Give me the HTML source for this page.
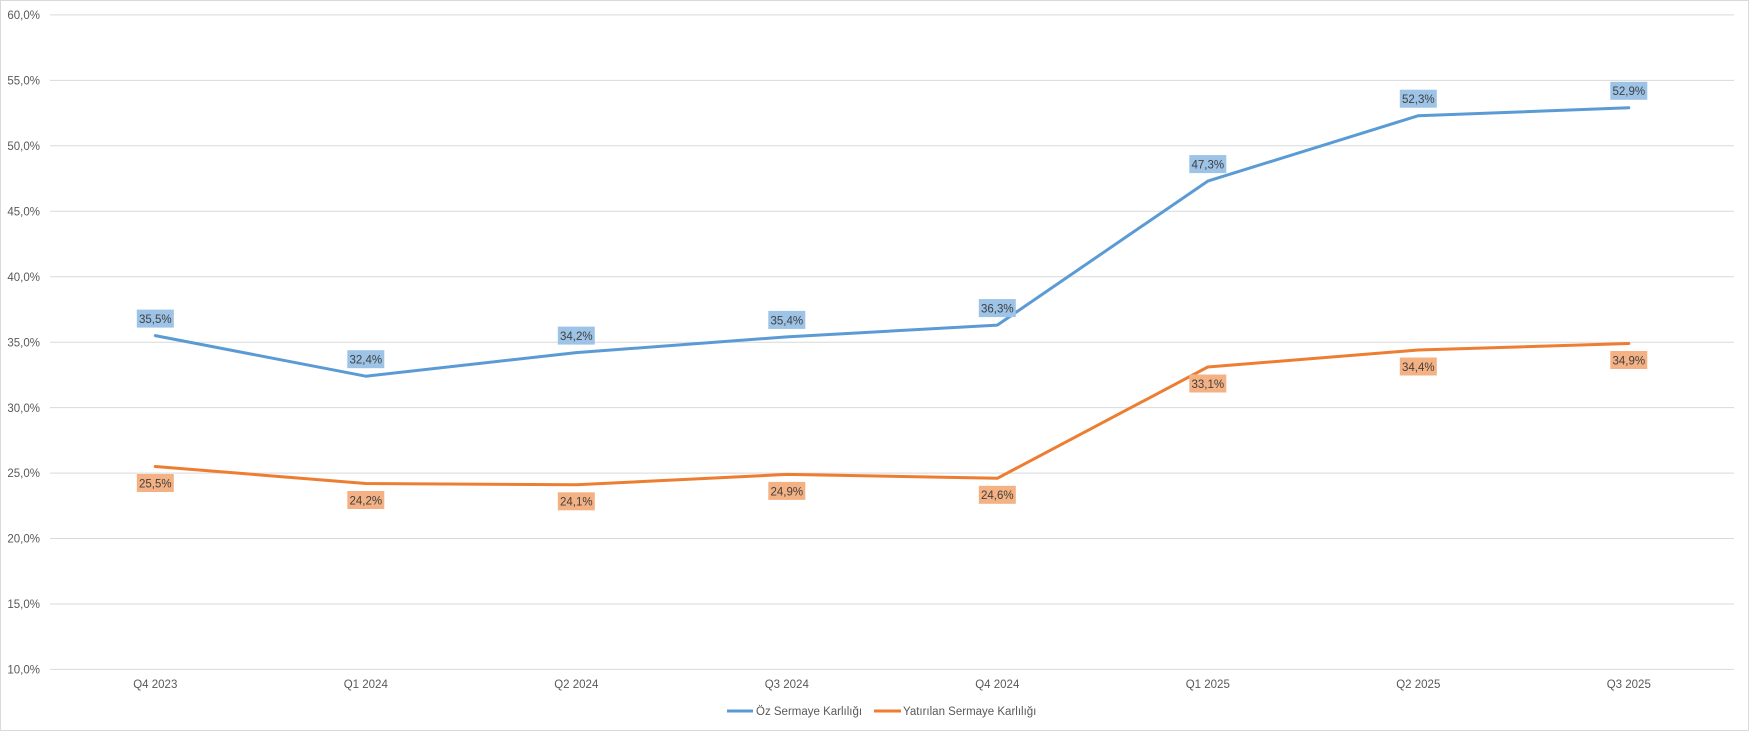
<!DOCTYPE html>
<html><head><meta charset="utf-8"><style>
html,body{margin:0;padding:0;background:#fff;}
svg{display:block;font-family:"Liberation Sans",sans-serif;}
</style></head><body>
<svg width="1749" height="731" viewBox="0 0 1749 731" xmlns="http://www.w3.org/2000/svg">
<rect x="0.5" y="0.5" width="1748" height="730" fill="#fff" stroke="#d9d9d9"/>
<g stroke="#d9d9d9" stroke-width="1">
<line x1="50" x2="1734" y1="14.9" y2="14.9"/>
<line x1="50" x2="1734" y1="80.4" y2="80.4"/>
<line x1="50" x2="1734" y1="145.8" y2="145.8"/>
<line x1="50" x2="1734" y1="211.3" y2="211.3"/>
<line x1="50" x2="1734" y1="276.7" y2="276.7"/>
<line x1="50" x2="1734" y1="342.2" y2="342.2"/>
<line x1="50" x2="1734" y1="407.6" y2="407.6"/>
<line x1="50" x2="1734" y1="473.1" y2="473.1"/>
<line x1="50" x2="1734" y1="538.5" y2="538.5"/>
<line x1="50" x2="1734" y1="604" y2="604"/>
<line x1="50" x2="1734" y1="669.4" y2="669.4"/>
</g>
<g fill="#595959" font-size="11.5" text-anchor="end">
<text x="40" y="19">60,0%</text><text x="40" y="84.5">55,0%</text><text x="40" y="150">50,0%</text>
<text x="40" y="215.4">45,0%</text><text x="40" y="280.9">40,0%</text><text x="40" y="346.3">35,0%</text>
<text x="40" y="411.8">30,0%</text><text x="40" y="477.2">25,0%</text><text x="40" y="542.7">20,0%</text>
<text x="40" y="608.1">15,0%</text><text x="40" y="673.6">10,0%</text>
</g>
<g fill="#595959" font-size="11.5" text-anchor="middle">
<text x="155.3" y="688">Q4 2023</text><text x="365.8" y="688">Q1 2024</text><text x="576.3" y="688">Q2 2024</text>
<text x="786.8" y="688">Q3 2024</text><text x="997.3" y="688">Q4 2024</text><text x="1207.8" y="688">Q1 2025</text>
<text x="1418.3" y="688">Q2 2025</text><text x="1628.8" y="688">Q3 2025</text>
</g>
<polyline fill="none" stroke="#5b9bd5" stroke-width="3" stroke-linejoin="round" stroke-linecap="round"
points="155.3,335.6 365.8,376.2 576.3,352.6 786.8,336.9 997.3,325.1 1207.8,181.1 1418.3,115.7 1628.8,107.8"/>
<polyline fill="none" stroke="#ed7d31" stroke-width="3" stroke-linejoin="round" stroke-linecap="round"
points="155.3,466.5 365.8,483.5 576.3,484.8 786.8,474.4 997.3,478.3 1207.8,367.0 1418.3,350.0 1628.8,343.5"/>
<g font-size="11.5" fill="#404040" text-anchor="middle">
<g fill="#9dc3e6">
<rect x="136.8" y="309.6" width="37" height="18"/><rect x="347.3" y="350.2" width="37" height="18"/>
<rect x="557.8" y="326.6" width="37" height="18"/><rect x="768.3" y="310.9" width="37" height="18"/>
<rect x="978.8" y="299.1" width="37" height="18"/><rect x="1189.3" y="155.1" width="37" height="18"/>
<rect x="1399.8" y="89.7" width="37" height="18"/><rect x="1610.3" y="81.8" width="37" height="18"/>
</g>
<text x="155.3" y="323">35,5%</text><text x="365.8" y="363.6">32,4%</text><text x="576.3" y="340">34,2%</text>
<text x="786.8" y="324.3">35,4%</text><text x="997.3" y="312.5">36,3%</text><text x="1207.8" y="168.5">47,3%</text>
<text x="1418.3" y="103.1">52,3%</text><text x="1628.8" y="95.2">52,9%</text>
<g fill="#f4b183">
<rect x="136.8" y="474" width="37" height="18"/><rect x="347.3" y="491" width="37" height="18"/>
<rect x="557.8" y="492.3" width="37" height="18"/><rect x="768.3" y="481.9" width="37" height="18"/>
<rect x="978.8" y="485.8" width="37" height="18"/><rect x="1189.3" y="374.5" width="37" height="18"/>
<rect x="1399.8" y="357.5" width="37" height="18"/><rect x="1610.3" y="351" width="37" height="18"/>
</g>
<text x="155.3" y="487.4">25,5%</text><text x="365.8" y="504.4">24,2%</text><text x="576.3" y="505.7">24,1%</text>
<text x="786.8" y="495.3">24,9%</text><text x="997.3" y="499.2">24,6%</text><text x="1207.8" y="387.9">33,1%</text>
<text x="1418.3" y="370.9">34,4%</text><text x="1628.8" y="364.4">34,9%</text>
</g>
<line x1="727" x2="753" y1="711" y2="711" stroke="#5b9bd5" stroke-width="3"/>
<text x="756" y="715" font-size="11.5" fill="#595959">Öz Sermaye Karlılığı</text>
<line x1="874" x2="901" y1="711" y2="711" stroke="#ed7d31" stroke-width="3"/>
<text x="903" y="715" font-size="11.5" fill="#595959">Yatırılan Sermaye Karlılığı</text>
</svg>
</body></html>
